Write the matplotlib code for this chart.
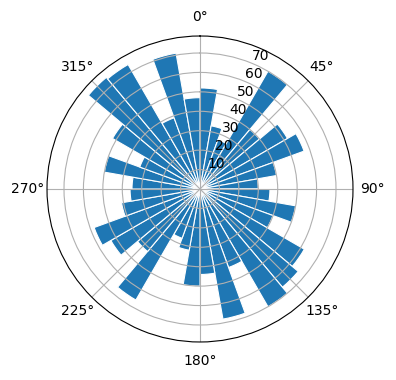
import numpy as np
import matplotlib
matplotlib.use("Agg")
import matplotlib.pyplot as plt

# direction bins (degrees, left edge of each 10 degree sector)
bin_start_deg = [0, 10, 20, 30, 40, 50, 60, 70, 80,
                 90, 100, 110, 120, 130, 140, 150, 160, 170,
                 180, 190, 200, 210, 220, 230, 240, 250, 260,
                 270, 280, 290, 300, 310, 320, 330, 340, 350]
# bar lengths
counts = [52, 33, 27, 70, 40, 52, 57, 40, 30,
          36, 50, 40, 62, 66, 70, 43, 68, 44,
          50, 32, 27, 66, 42, 53, 58, 41, 36,
          35, 50, 33, 52, 75, 74, 39, 71, 47]

theta = np.deg2rad(bin_start_deg)
width = np.deg2rad(10)

fig = plt.figure(figsize=(3.96, 3.8), dpi=100)
ax = fig.add_axes([0.1187, 0.1, 0.7727, 0.8053], projection="polar")
ax.set_theta_zero_location("N")
ax.set_theta_direction(-1)

ax.bar(theta, counts, width=width, align="edge",
       color="#1f77b4", edgecolor="white", linewidth=0.8)

fig.savefig("out.png", dpi=100)
